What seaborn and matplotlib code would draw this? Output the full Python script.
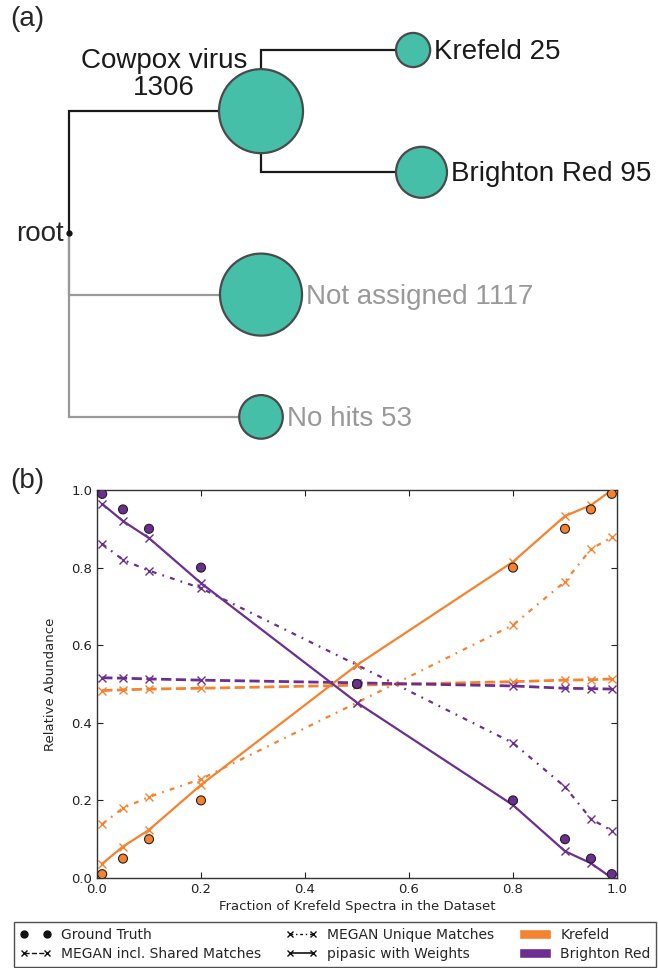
import numpy as np
import pandas as pd
import seaborn as sns
import matplotlib.pyplot as plt
from matplotlib.patches import Circle, Patch
from matplotlib.lines import Line2D

# ---- panel (a): taxonomy tree ----
node_names = ['root', 'Cowpox virus', 'Krefeld', 'Brighton Red', 'Not assigned', 'No hits']
node_counts = [0, 1306, 25, 95, 1117, 53]
node_parent = [None, 'root', 'Cowpox virus', 'Cowpox virus', 'root', 'root']
node_assigned = [True, True, True, True, False, False]

# ---- panel (b): relative abundance ----
fractions = [0.01, 0.05, 0.1, 0.2, 0.5, 0.8, 0.9, 0.95, 0.99]
truth_krefeld = [0.01, 0.05, 0.1, 0.2, 0.5, 0.8, 0.9, 0.95, 0.99]
truth_brighton = [0.99, 0.95, 0.9, 0.8, 0.5, 0.2, 0.1, 0.05, 0.01]
pipasic_krefeld = [0.037, 0.081, 0.124, 0.24, 0.549, 0.815, 0.933, 0.961, 1.0]
pipasic_brighton = [0.964, 0.92, 0.876, 0.76, 0.452, 0.188, 0.069, 0.038, 0.0]
unique_krefeld = [0.139, 0.18, 0.209, 0.255, 0.452, 0.652, 0.764, 0.848, 0.878]
unique_brighton = [0.861, 0.82, 0.792, 0.747, 0.549, 0.348, 0.235, 0.152, 0.122]
shared_krefeld = [0.483, 0.485, 0.487, 0.489, 0.497, 0.506, 0.51, 0.511, 0.513]
shared_brighton = [0.516, 0.515, 0.513, 0.51, 0.503, 0.495, 0.489, 0.488, 0.487]

strains = ['Krefeld', 'Brighton Red']
palette = {'Krefeld': '#f5822f', 'Brighton Red': '#6b2e91'}

rows = []
for method, vals in [('truth', (truth_krefeld, truth_brighton)),
                     ('pipasic', (pipasic_krefeld, pipasic_brighton)),
                     ('unique', (unique_krefeld, unique_brighton)),
                     ('shared', (shared_krefeld, shared_brighton))]:
    for strain, v in zip(strains, vals):
        for f, y in zip(fractions, v):
            rows.append((method, strain, f, y))
df = pd.DataFrame(rows, columns=['method', 'strain', 'fraction', 'value'])

sns.set_style('ticks', {'xtick.direction': 'in', 'ytick.direction': 'in',
                        'axes.edgecolor': '#333333'})
plt.rcParams['font.family'] = ['DejaVu Sans']

W, H = 658, 968
fig = plt.figure(figsize=(W / 100, H / 100), dpi=100)

# tree axes in pixel units
TH = 470
ax_t = fig.add_axes([0, 1 - TH / H, 1, TH / H])
ax_t.set_xlim(0, W)
ax_t.set_ylim(TH, 0)
ax_t.axis('off')

children = {n: [] for n in node_names}
for n, p in zip(node_names, node_parent):
    if p is not None:
        children[p].append(n)
depth = {'root': 0}
leaves = []


def walk(n):
    for c in children[n]:
        depth[c] = depth[n] + 1
        if children[c]:
            walk(c)
        else:
            leaves.append(c)


walk('root')
leaf_y = {n: 50 + i * 122.3 for i, n in enumerate(leaves)}


def subtree_leaves(n):
    if not children[n]:
        return [n]
    out = []
    for c in children[n]:
        out += subtree_leaves(c)
    return out


info = {}
for n, cnt, assigned in zip(node_names, node_counts, node_assigned):
    y = np.mean([leaf_y[l] for l in subtree_leaves(n)])
    r = 6.3 * np.log(cnt) - 3.2 if cnt > 0 else 0
    d = depth[n]
    if d == 0:
        x = 69
    elif d == 1:
        x = 261
    else:
        x = 396 + r
    info[n] = (x, y, r, cnt, assigned)

for n, p in zip(node_names, node_parent):
    if p is None:
        continue
    x, y, r, cnt, assigned = info[n]
    px, py, pr, _, _ = info[p]
    col = '#1a1a1a' if assigned else '#999999'
    ax_t.plot([px, px, x - r], [py, y, y], color=col, lw=1.6, zorder=1,
              solid_joinstyle='miter')

for n in node_names:
    x, y, r, cnt, assigned = info[n]
    if n == 'root':
        ax_t.plot(x, y, 'o', color='#111111', ms=3.5, zorder=3)
        ax_t.text(x - 5, y + 1, 'root', ha='right', va='center',
                  fontsize=20, family='Liberation Sans')
        continue
    ax_t.add_patch(Circle((x, y), r, facecolor='#46bfa9', edgecolor='#4a4a4a',
                          lw=1.6, zorder=2))
    col = '#1a1a1a' if assigned else '#999999'
    if children[n]:
        ax_t.text(x - 97, y - 16, f'{n}\n{cnt}', ha='center', va='baseline',
                  fontsize=20, family='Liberation Sans', linespacing=1.05,
                  color=col)
    else:
        ax_t.text(x + r + 4, y + 2, f'{n} {cnt}', ha='left', va='center',
                  fontsize=20, family='Liberation Sans', color=col)

fig.text(10 / W, 1 - 6 / H, '(a)', ha='left', va='top', fontsize=20,
         family='Liberation Sans')
fig.text(10 / W, 1 - 468 / H, '(b)', ha='left', va='top', fontsize=20,
         family='Liberation Sans')

# line chart
ax = fig.add_axes([97 / W, 1 - 878 / H, 520 / W, 388 / H])
styles = {'shared': '--', 'unique': (0, (2.2, 2.8, 0.8, 2.8)), 'pipasic': '-'}
widths = {'shared': 2.0, 'unique': 1.6, 'pipasic': 1.6}
for method in ['unique', 'shared', 'pipasic']:
    for strain in strains:
        sub = df[(df.method == method) & (df.strain == strain)]
        c = palette[strain]
        sns.lineplot(data=sub, x='fraction', y='value', ax=ax, color=c,
                     linestyle=styles[method], lw=widths[method], marker='x',
                     markersize=6, mec=c, mew=1.0, legend=False, zorder=2)
truth = df[df.method == 'truth']
sns.scatterplot(data=truth, x='fraction', y='value', hue='strain',
                palette=palette, s=42, edgecolor='#222222', linewidth=0.8,
                ax=ax, legend=False, zorder=3)

ax.set_xlim(0, 1)
ax.set_ylim(0, 1)
ax.set_xticks(np.arange(0, 1.01, 0.2))
ax.set_yticks(np.arange(0, 1.01, 0.2))
ax.tick_params(top=True, right=True, direction='in', length=4, width=0.8,
               labelsize=9.5, colors='#222222')
for s in ax.spines.values():
    s.set_linewidth(1.0)
ax.set_xlabel('Fraction of Krefeld Spectra in the Dataset', fontsize=9.5,
              labelpad=3)
ax.set_ylabel('Relative Abundance', fontsize=9.5, labelpad=10)

k = '#111111'
handles = [
    Line2D([], [], ls='none', marker='o', color=k, ms=5),
    Line2D([], [], ls='--', marker='x', color=k, ms=5, lw=1),
    Line2D([], [], ls=(0, (2, 2, 1, 2)), marker='x', color=k, ms=5, lw=1),
    Line2D([], [], ls='-', marker='x', color=k, ms=5, lw=1.2),
    Patch(facecolor=palette['Krefeld']),
    Patch(facecolor=palette['Brighton Red']),
]
labels = ['Ground Truth', 'MEGAN incl. Shared Matches', 'MEGAN Unique Matches',
          'pipasic with Weights', 'Krefeld', 'Brighton Red']
leg = fig.legend(handles, labels, loc='upper left', ncol=3, numpoints=2,
                 bbox_to_anchor=(14 / W, 1 - 922 / H), borderaxespad=0,
                 fontsize=10, frameon=True, fancybox=False, edgecolor='#222222',
                 handlelength=2.3, handletextpad=0.7, columnspacing=1.75,
                 labelspacing=0.4, borderpad=0.4)
leg.get_frame().set_linewidth(1.0)

fig.savefig('out.png', dpi=100)
